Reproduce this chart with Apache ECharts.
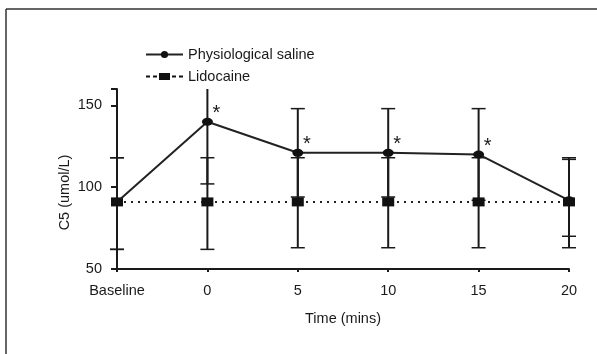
<!DOCTYPE html>
<html>
<head>
<meta charset="utf-8">
<script src="https://cdn.jsdelivr.net/npm/echarts@6/dist/echarts.min.js"></script>
<style>
html,body{margin:0;padding:0;background:#fff;}
#chart{width:597px;height:354px;}
</style>
</head>
<body>
<div id="chart"></div>
<script>
var categories = ['Baseline', '0', '5', '10', '15', '20'];
var salineMean = [91, 140, 121, 121, 120, 92];
var salineLow  = [62, 102, 94, 94, 92, 70];
var salineHigh = [118, 178, 148, 148, 148, 118];
var lidoMean   = [91, 91, 91, 91, 91, 91];
var lidoLow    = [62, 62, 63, 63, 63, 63];
var lidoHigh   = [118, 118, 118, 118, 118, 117];
var significance = ['', '*', '*', '*', '*', ''];
var yTicks = [50, 100, 150];

var FONT = '"Liberation Sans", Arial, sans-serif';
var FS = 14.5;

// legend glyph for the dashed series: dashes + square, in a 37x9 box
var LIDO_ICON = 'path://M0,3.5L4,3.5L4,5.5L0,5.5Z M7,3.5L11,3.5L11,5.5L7,5.5Z M13,1L24,1L24,8L13,8Z M26,3.5L30,3.5L30,5.5L26,5.5Z M33,3.5L37,3.5L37,5.5L33,5.5Z M0,0L0.01,0Z M37,9L37.01,9Z';

function errData(low, high) {
  return categories.map(function (c, i) { return [i, low[i], high[i]]; });
}

function renderErr(params, api) {
  var cs = params.coordSys;
  var x = api.value(0);
  var lo = api.coord([x, api.value(1)]);
  var hi = api.coord([x, api.value(2)]);
  var top = cs.y, bottom = cs.y + cs.height;
  var hw = 7;
  var children = [];
  var y1 = Math.min(lo[1], bottom), y2 = Math.max(hi[1], top);
  children.push({ type: 'line', shape: { x1: lo[0], y1: y1, x2: hi[0], y2: y2 }, style: { stroke: '#1a1a1a', lineWidth: 2 } });
  if (lo[1] <= bottom) {
    children.push({ type: 'line', shape: { x1: lo[0] - hw, y1: lo[1], x2: lo[0] + hw, y2: lo[1] }, style: { stroke: '#1a1a1a', lineWidth: 1.5 } });
  }
  if (hi[1] >= top) {
    children.push({ type: 'line', shape: { x1: hi[0] - hw, y1: hi[1], x2: hi[0] + hw, y2: hi[1] }, style: { stroke: '#1a1a1a', lineWidth: 1.5 } });
  }
  return { type: 'group', children: children };
}

var chart = echarts.init(document.getElementById('chart'));
chart.setOption({
  animation: false,
  backgroundColor: '#fff',
  textStyle: { fontFamily: FONT },
  grid: { left: 117, right: 28, top: 89, bottom: 85 },
  graphic: [
    { type: 'line', shape: { x1: 6, y1: 9, x2: 597, y2: 9 }, style: { stroke: '#333', lineWidth: 1.5 }, z: 100 },
    { type: 'line', shape: { x1: 6, y1: 9, x2: 6, y2: 354 }, style: { stroke: '#333', lineWidth: 1.5 }, z: 100 }
  ],
  legend: {
    orient: 'vertical',
    left: 140,
    top: 41,
    itemWidth: 37,
    itemHeight: 9,
    itemGap: 5,
    textStyle: { fontFamily: FONT, fontSize: FS, lineHeight: 17, color: '#1a1a1a' },
    data: [
      { name: 'Physiological saline' },
      { name: 'Lidocaine', icon: LIDO_ICON, itemStyle: { color: '#111' } }
    ]
  },
  xAxis: {
    type: 'category',
    data: categories,
    boundaryGap: false,
    name: 'Time (mins)',
    nameLocation: 'middle',
    nameGap: 42,
    nameMoveOverlap: false,
    nameTextStyle: { fontFamily: FONT, fontSize: FS, color: '#1a1a1a' },
    axisLine: { lineStyle: { color: '#1a1a1a', width: 2 } },
    axisTick: { length: 3, lineStyle: { width: 2, color: '#1a1a1a' } },
    axisLabel: { margin: 14, fontFamily: FONT, fontSize: FS, color: '#1a1a1a' },
    splitLine: { show: false }
  },
  yAxis: {
    type: 'value',
    min: 50,
    max: 160,
    interval: 50,
    name: 'C5 (umol/L)',
    nameLocation: 'middle',
    nameGap: 45,
    nameMoveOverlap: false,
    nameTextStyle: { fontFamily: FONT, fontSize: FS, color: '#1a1a1a', padding: [0, 27, 0, 0] },
    axisLine: { show: true, lineStyle: { color: '#1a1a1a', width: 2 } },
    axisTick: { show: true, length: 6, lineStyle: { width: 2, color: '#1a1a1a' } },
    axisLabel: {
      margin: 15, fontFamily: FONT, fontSize: FS, color: '#1a1a1a',
      formatter: function (v) { return yTicks.indexOf(v) >= 0 ? String(v) : ''; }
    },
    splitLine: { show: false }
  },
  series: [
    {
      name: 'errSaline', type: 'custom', renderItem: renderErr, clip: false,
      data: errData(salineLow, salineHigh), z: 1, silent: true
    },
    {
      name: 'errLido', type: 'custom', renderItem: renderErr, clip: false,
      data: errData(lidoLow, lidoHigh), z: 1, silent: true
    },
    {
      name: 'Lidocaine', type: 'line', data: lidoMean,
      symbol: 'rect', symbolSize: [12, 9], showSymbol: true,
      itemStyle: { color: '#111' },
      lineStyle: { color: '#222', width: 2, type: [2, 5] },
      z: 3
    },
    {
      name: 'Physiological saline', type: 'line', data: salineMean,
      symbol: 'circle', symbolSize: [11, 8], showSymbol: true,
      itemStyle: { color: '#111' },
      lineStyle: { color: '#222', width: 2 },
      label: {
        show: true, position: 'inside', offset: [9, -8],
        fontFamily: FONT, fontSize: 20, color: '#1a1a1a',
        formatter: function (p) { return significance[p.dataIndex]; }
      },
      z: 4
    }
  ]
});
</script>
</body>
</html>
